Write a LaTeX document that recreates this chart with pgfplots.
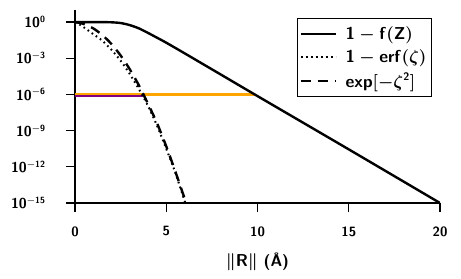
\documentclass[border=0pt]{standalone}
\usepackage{pgfplots}
\pgfplotsset{compat=1.18}
\definecolor{myorange}{RGB}{255,165,0}
\definecolor{mypurple}{RGB}{128,0,128}
\newcommand{\lbl}{\fontsize{13.5}{16}\selectfont\sffamily\bfseries\boldmath}
\newcommand{\lgd}{\fontsize{16}{19}\selectfont\sffamily\bfseries\boldmath}
\begin{document}
\begin{tikzpicture}
\path[use as bounding box] (0,0) rectangle (461bp,279bp);
\begin{axis}[
  scale only axis, width=365bp, height=193bp,
  at={(75bp,76bp)}, anchor=south west,
  axis lines=left, axis line style={-, line width=1.2bp},
  ymode=log, xmin=0, xmax=20, ymin=1e-15, ymax=1e1,
  xtick={0,5,10,15,20}, xticklabels={0,5,10,15,20},
  ytick={1e0,1e-3,1e-6,1e-9,1e-12,1e-15},
  yticklabels={{$\mathsf{10^{0}}$},{$\mathsf{10^{-3}}$},{$\mathsf{10^{-6}}$},{$\mathsf{10^{-9}}$},{$\mathsf{10^{-12}}$},{$\mathsf{10^{-15}}$}},
  minor tick style={draw=none},
  tick align=outside, major tick length=9bp,
  tick style={line width=1.2bp, black},
  every tick label/.append style={font=\lbl},
  xticklabel style={yshift=-11bp},
  yticklabel style={xshift=-17bp},
  xlabel={$\|\mathsf{R}\|$ (\AA)},
  xlabel style={font=\lgd, at={(axis description cs:0.5,0)}, anchor=center, yshift=-58.5bp},
  clip=true,
  legend style={at={(0.978,0.958)}, anchor=north east, draw=black, line width=1bp, font=\lgd, row sep=4bp, column sep=6bp, inner xsep=2.5bp, inner ysep=5.5bp, nodes={inner sep=2.5bp}},
  legend cell align=left,
  legend image code/.code={\draw[#1] (0bp,0bp) -- (35bp,0bp);},
]
\addplot[myorange, line width=2.6bp, forget plot] coordinates {(0,1e-6) (9.85,1e-6)};
\addplot[mypurple, line width=2.6bp, forget plot] coordinates {(0,7.6e-7) (3.85,7.6e-7)};
\addplot[black, line width=2.4bp, smooth, tension=0.5] coordinates {
(0,1) (1,1) (1.5,0.99) (2,0.955) (2.5,0.83) (3,0.56) (3.5,0.30) (4,0.126) (4.5,0.05) (5,0.0195) (6,2.6e-3) (7,3.37e-4) (8,4.37e-5) (10,7.3e-7) (15,2.8e-11) (20,1e-15)};
\addlegendentry{$\mathsf{1-f(Z)}$}
\addplot[black, line width=2bp, dash pattern=on 1.6bp off 3.4bp, smooth, tension=0.4] coordinates {
(0,1) (0.25,0.63) (0.5,0.355) (1,0.1) (1.5,0.0282) (2,5.0e-3) (2.5,6.3e-4) (3,5.0e-5) (3.5,2.8e-6) (4,1.12e-7) (4.5,2.5e-9) (5,3.2e-11) (5.5,3.2e-13) (6,1.6e-15) (6.1,5e-16)};
\addlegendentry{$\mathsf{1-erf(}\zeta\mathsf{)}$}
\addplot[black, line width=2.4bp, dash pattern=on 10bp off 7bp, smooth, tension=0.4] coordinates {
(0,0.98) (0.25,0.86) (0.5,0.676) (1,0.3) (1.5,0.0838) (2,0.015) (2.5,1.7e-3) (3,1.23e-4) (3.5,5.7e-6) (4,1.67e-7) (4.5,4.0e-9) (5,5.0e-11) (5.5,4.0e-13) (6,2.5e-15) (6.1,8e-16)};
\addlegendentry{$\mathsf{exp[-}\zeta^{\mathsf{2}}\mathsf{]}$}
\end{axis}
\end{tikzpicture}
\end{document}
